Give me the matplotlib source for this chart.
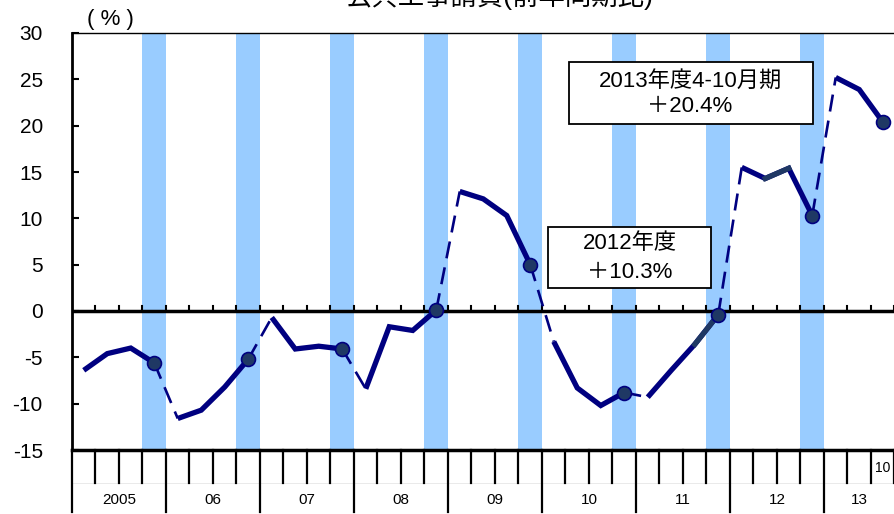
import matplotlib
matplotlib.use("Agg")
import matplotlib.pyplot as plt
from matplotlib.patches import Rectangle

plt.rcParams['font.family'] = ['Liberation Sans', 'Noto Sans CJK JP', 'DejaVu Sans']

# fiscal years and quarterly values (Apr-Jun, Jul-Sep, Oct-Dec), % y/y
years = ['2005', '06', '07', '08', '09', '10', '11', '12', '13']
q_vals = [
    [-6.4, -4.6, -4.0],
    [-11.6, -10.7, -8.2],
    [-0.7, -4.1, -3.8],
    [-8.4, -1.7, -2.1],
    [12.9, 12.1, 10.3],
    [-3.3, -8.3, -10.2],
    [-9.3, -6.4, -3.6],
    [15.5, 14.3, 15.4],
    [25.2, 23.9],
]
# fiscal year totals (2013: Apr-Oct)
fy_vals = [-5.6, -5.2, -4.1, 0.1, 5.0, -8.8, -0.4, 10.3, 20.4]
yticks = [-15, -10, -5, 0, 5, 10, 15, 20, 25, 30]

navy = '#000080'
dotc = '#1F3864'
barc = '#99CCFF'

fig = plt.figure(figsize=(8.95, 5.14), dpi=100)
ax = fig.add_axes([72 / 895, 1 - 450 / 514, 822.5 / 895, 417 / 514])
n_q = 35
ax.set_xlim(0, n_q)
ax.set_ylim(-15, 30)

# blue bars on the Jan-Mar quarter of each fiscal year
for i in range(len(years)):
    if i * 4 + 4 <= n_q:
        ax.axvspan(i * 4 + 3, i * 4 + 4, color=barc, lw=0, zorder=1)

ax.axhline(0, color='black', lw=2.5, zorder=2)
for k in range(n_q + 1):
    ax.plot([k, k], [0, 0.55], color='black', lw=1.5, zorder=2)

# lines
for i in range(len(years)):
    xs = [i * 4 + j + 0.5 for j in range(len(q_vals[i]))]
    xd = i * 4 + len(q_vals[i]) + 0.5
    ax.plot(xs + [xd], q_vals[i] + [fy_vals[i]], color=navy, lw=3.8,
            solid_capstyle='butt', solid_joinstyle='miter', zorder=3)
    if i + 1 < len(years):
        ax.plot([xd, (i + 1) * 4 + 0.5], [fy_vals[i], q_vals[i + 1][0]],
                color=navy, lw=1.9, dashes=(6.5, 3.5), zorder=3)
# darker segments
ax.plot([6 * 4 + 2.5, 6 * 4 + 3.5], [q_vals[6][2], fy_vals[6]], color=dotc, lw=3.8, zorder=3)
ax.plot([7 * 4 + 1.5, 7 * 4 + 2.5], [q_vals[7][1], q_vals[7][2]], color=dotc, lw=3.8, zorder=3)

dx = [i * 4 + len(q_vals[i]) + 0.5 for i in range(len(years))]
ax.plot(dx, fy_vals, 'o', ms=10, mfc=dotc, mec=navy, mew=1.2, zorder=4)

# axes styling
ax.set_yticks(yticks)
ax.set_yticklabels([str(v) for v in yticks], fontsize=15)
ax.tick_params(axis='y', direction='in', length=5, width=1.5, pad=21)
ax.set_xticks([])
ax.spines['right'].set_visible(False)
ax.spines['left'].set_linewidth(2)
ax.spines['bottom'].set_linewidth(2.5)
ax.spines['top'].set_linewidth(1)

# quarter / year ticks under the axis
tr = ax.get_xaxis_transform()
for k in range(n_q + 1):
    if k % 4 == 0:
        ax.plot([k, k], [0, -62 / 417], color='black', lw=1.6, transform=tr, clip_on=False)
    else:
        ax.plot([k, k], [0, -33 / 417], color='black', lw=1.6, transform=tr, clip_on=False)
ax.plot([0, n_q], [-33 / 417, -33 / 417], color='#e6e6e6', lw=0.6, transform=tr, clip_on=False, zorder=0)
for i, y in enumerate(years):
    x0 = i * 4
    x1 = min(i * 4 + 4, n_q)
    ax.text((x0 + x1) / 2, -50 / 417, y, transform=tr, ha='center', va='center', fontsize=11)
ax.text(34.5, -18 / 417, '10', transform=tr, ha='center', va='center', fontsize=10)

# annotation boxes
ax.add_patch(Rectangle((21.15, 20.17), 10.38, 6.69, fc='white', ec='black', lw=1.3, zorder=5))
ax.text(26.3, 24.8, '2013年度4-10月期', ha='center', va='center', fontsize=16, zorder=6)
ax.text(26.3, 22.1, '＋20.4%', ha='center', va='center', fontsize=16, zorder=6)
ax.add_patch(Rectangle((20.26, 2.48), 6.93, 6.58, fc='white', ec='black', lw=1.3, zorder=5))
ax.text(23.75, 7.3, '2012年度', ha='center', va='center', fontsize=16, zorder=6)
ax.text(23.75, 4.2, '＋10.3%', ha='center', va='center', fontsize=16, zorder=6)

fig.text(110 / 895, 1 - 19 / 514, '( % )', ha='center', va='center', fontsize=16)
fig.text(500 / 895, 1 - 5 / 514, '公共工事請負(前年同期比)', ha='center', va='baseline', fontsize=19)

fig.savefig('out.png', dpi=100)
